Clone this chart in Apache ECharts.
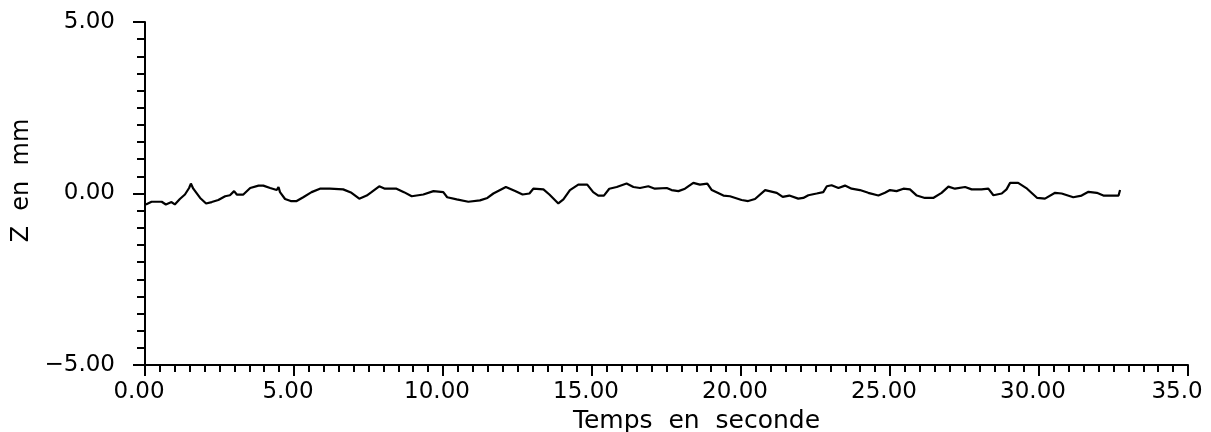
<!DOCTYPE html>
<html>
<head>
<meta charset="utf-8">
<script src="https://cdn.jsdelivr.net/npm/echarts@6/dist/echarts.min.js"></script>
<style>
html,body{margin:0;padding:0;background:#fff;}
#chart{width:1211px;height:432px;}
</style>
</head>
<body>
<div id="chart"></div>
<script>
// Time (s) and Z (mm)
const times = [0.03,0.22,0.56,0.70,0.89,1.00,1.17,1.34,1.48,1.54,1.62,1.85,2.05,2.24,2.46,2.69,2.85,2.99,3.08,3.30,
  3.53,3.81,3.97,4.20,4.42,4.48,4.53,4.70,4.89,5.09,5.31,5.59,5.87,6.20,6.65,6.93,7.19,7.44,7.60,7.86,
  8.05,8.44,8.69,8.95,9.34,9.68,10.01,10.14,10.46,10.85,11.24,11.49,11.69,12.11,12.42,12.67,12.90,13.03,13.37,13.57,
  13.87,14.04,14.26,14.54,14.84,15.04,15.21,15.40,15.58,15.83,16.16,16.39,16.61,16.89,17.11,17.51,17.67,17.90,18.12,18.40,
  18.62,18.87,19.02,19.41,19.63,20.02,20.24,20.47,20.81,21.20,21.40,21.62,21.92,22.09,22.26,22.54,22.76,22.88,23.04,23.27,
  23.49,23.71,23.99,24.27,24.61,24.83,25.00,25.22,25.45,25.67,25.90,26.17,26.45,26.73,26.96,27.18,27.52,27.74,28.07,28.30,
  28.47,28.75,28.91,29.03,29.30,29.60,29.94,30.20,30.54,30.76,31.15,31.43,31.66,31.94,32.16,32.67,32.72];
const zValues = [-0.32,-0.24,-0.24,-0.32,-0.25,-0.32,-0.16,-0.03,0.16,0.29,0.14,-0.13,-0.29,-0.25,-0.19,-0.08,-0.05,0.07,-0.03,-0.03,
  0.16,0.23,0.23,0.16,0.10,0.19,0.04,-0.16,-0.22,-0.22,-0.11,0.04,0.14,0.14,0.12,0.02,-0.15,-0.06,0.04,0.21,
  0.14,0.14,0.04,-0.08,-0.03,0.07,0.04,-0.11,-0.17,-0.24,-0.20,-0.13,0.00,0.19,0.07,-0.03,0.00,0.14,0.12,-0.03,
  -0.29,-0.17,0.10,0.26,0.26,0.04,-0.06,-0.06,0.14,0.19,0.29,0.19,0.16,0.21,0.14,0.16,0.10,0.07,0.14,0.31,
  0.26,0.29,0.10,-0.06,-0.08,-0.19,-0.22,-0.16,0.10,0.02,-0.10,-0.06,-0.15,-0.13,-0.05,0.00,0.04,0.21,0.24,0.16,
  0.23,0.14,0.10,0.02,-0.06,0.02,0.10,0.07,0.14,0.12,-0.06,-0.13,-0.13,0.02,0.20,0.14,0.19,0.12,0.12,0.14,
  -0.05,0.00,0.12,0.31,0.31,0.14,-0.13,-0.15,0.02,0.00,-0.11,-0.06,0.05,0.02,-0.06,-0.06,0.10];
const xTicks = [0, 5, 10, 15, 20, 25, 30, 35];
const xTickLabels = ['0.00','5.00','10.00','15.00','20.00','25.00','30.00','35.0'];
const yTicks = [-5, 0, 5];
const yTickLabels = ['\u22125.00','0.00','5.00'];

const fontFam = 'DejaVu Sans';
const chart = echarts.init(document.getElementById('chart'), null, {renderer:'canvas'});
chart.setOption({
  animation: false,
  backgroundColor: '#ffffff',
  grid: {left: 145, right: 23, top: 22, bottom: 67, containLabel: false, outerBoundsMode: 'none'},
  xAxis: {
    type: 'value', min: 0, max: 35, interval: 5,
    name: 'Temps  en  seconde', nameLocation: 'middle', nameGap: 37,
    nameTextStyle: {fontFamily: fontFam, fontSize: 25, color: '#000', padding: [0,0,0,60]},
    axisLine: {show: true, onZero: false, lineStyle: {color: '#000', width: 2}},
    axisTick: {show: true, inside: false, length: 11, lineStyle: {color: '#000', width: 2}},
    minorTick: {show: true, splitNumber: 10, length: 7, lineStyle: {color: '#000', width: 2}},
    splitLine: {show: false},
    axisLabel: {
      fontFamily: fontFam, fontSize: 23, color: '#000', margin: 16, padding: [0,12,0,0],
      showMinLabel: true, showMaxLabel: true,
      formatter: v => {
        const i = xTicks.indexOf(v);
        if (i < 0) return '';
        return i === xTicks.length - 1 ? '{e|' + xTickLabels[i] + '}' : xTickLabels[i];
      },
      rich: {e: {fontFamily: fontFam, fontSize: 23, color: '#000', padding: [0,10,0,0]}}
    }
  },
  yAxis: {
    type: 'value', min: -5, max: 5, interval: 5,
    name: 'Z  en  mm', nameLocation: 'middle', nameGap: 104, nameRotate: 90,
    nameTextStyle: {fontFamily: fontFam, fontSize: 24, color: '#000', padding: [0,0,0,26]},
    axisLine: {show: true, onZero: false, lineStyle: {color: '#000', width: 2}},
    axisTick: {show: true, inside: false, length: 12, lineStyle: {color: '#000', width: 2}},
    minorTick: {show: true, splitNumber: 10, length: 8, lineStyle: {color: '#000', width: 2}},
    splitLine: {show: false},
    axisLabel: {
      fontFamily: fontFam, fontSize: 23, color: '#000', margin: 30,
      formatter: v => { const i = yTicks.indexOf(v); return i >= 0 ? yTickLabels[i] : ''; }
    }
  },
  series: [{
    type: 'line',
    data: times.map((t, i) => [t, zValues[i]]),
    showSymbol: false,
    smooth: false,
    lineStyle: {color: '#000', width: 2.2},
    itemStyle: {color: '#000'}
  }]
});
</script>
</body>
</html>
